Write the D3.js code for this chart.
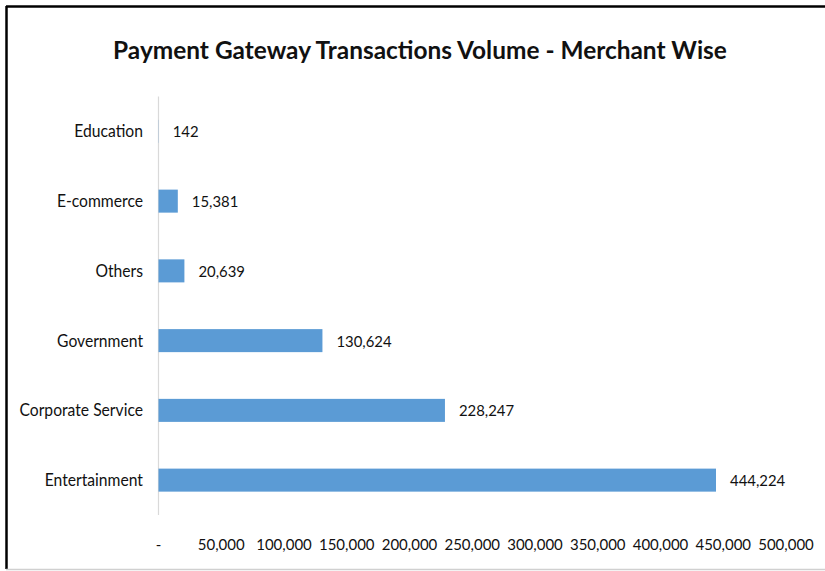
<!DOCTYPE html>
<html>
<head>
<meta charset="utf-8">
<script src="https://cdn.jsdelivr.net/npm/d3@7/dist/d3.min.js"></script>
<style>
  html, body { margin: 0; padding: 0; background: #fff; }
  svg { display: block; }
  text { font-family: Lato, "Open Sans", sans-serif; fill: #111; }
</style>
</head>
<body>
<svg id="chart" width="825" height="571"></svg>
<script>
const title = "Payment Gateway Transactions Volume - Merchant Wise";
const categories = ["Education", "E-commerce", "Others", "Government", "Corporate Service", "Entertainment"];
const values = [142, 15381, 20639, 130624, 228247, 444224];
const tickValues = [0, 50000, 100000, 150000, 200000, 250000, 300000, 350000, 400000, 450000, 500000];

const svg = d3.select("#chart");
const W = 825, H = 571;

// frame
svg.append("rect").attr("x", 0).attr("y", 0).attr("width", W).attr("height", H).attr("fill", "#fff");
svg.append("line").attr("x1", 6).attr("x2", W).attr("y1", 6.5).attr("y2", 6.5).attr("stroke", "#000").attr("stroke-width", 2.5);
svg.append("line").attr("x1", 6.5).attr("x2", 6.5).attr("y1", 6).attr("y2", 569).attr("stroke", "#000").attr("stroke-width", 2.5);
svg.append("line").attr("x1", 6).attr("x2", W).attr("y1", 569.5).attr("y2", 569.5).attr("stroke", "#d0d0d0").attr("stroke-width", 1.5);

// title
const t = svg.append("text")
  .attr("x", 420).attr("y", 59)
  .attr("text-anchor", "middle")
  .attr("font-size", 29).attr("font-weight", "bold")
  .text(title);
const tw = t.node().getComputedTextLength();
t.attr("font-size", 29 * 614 / tw);

function condense(sel, f) {
  sel.each(function () {
    const len = this.getComputedTextLength();
    d3.select(this).attr("textLength", len * f).attr("lengthAdjust", "spacingAndGlyphs");
  });
}

const x = d3.scaleLinear().domain([0, 500000]).range([158.5, 786]);
const y = d3.scaleBand().domain(categories).range([96.5, 515]).paddingInner(0.67).paddingOuter(0.335);

// axis line
svg.append("line").attr("x1", 158.5).attr("x2", 158.5).attr("y1", 96.5).attr("y2", 515)
  .attr("stroke", "#d9d9d9").attr("stroke-width", 1.2);

// bars
svg.selectAll("rect.bar").data(categories).join("rect")
  .attr("class", "bar")
  .attr("x", x(0))
  .attr("y", d => y(d))
  .attr("width", (d, i) => x(values[i]) - x(0))
  .attr("height", y.bandwidth())
  .attr("fill", "#5B9BD5");

const fmt = d3.format(",");

// value labels
const vals = svg.selectAll("text.val").data(categories).join("text")
  .attr("class", "val")
  .attr("x", (d, i) => x(values[i]) + 14)
  .attr("y", d => y(d) + y.bandwidth() / 2 + 6)
  .attr("font-size", 16)
  .text((d, i) => fmt(values[i]));
condense(vals, 0.93);

// category labels
const cats = svg.selectAll("text.cat").data(categories).join("text")
  .attr("class", "cat")
  .attr("x", 143)
  .attr("y", d => y(d) + y.bandwidth() / 2 + 6)
  .attr("text-anchor", "end")
  .attr("font-size", 18)
  .text(d => d);
condense(cats, 0.87);

// x tick labels
svg.selectAll("text.tick").data(tickValues).join("text")
  .attr("class", "tick")
  .attr("x", d => x(d))
  .attr("y", 550)
  .attr("text-anchor", "middle")
  .attr("font-size", 15)
  .text(d => d === 0 ? "-" : fmt(d));
</script>
</body>
</html>
